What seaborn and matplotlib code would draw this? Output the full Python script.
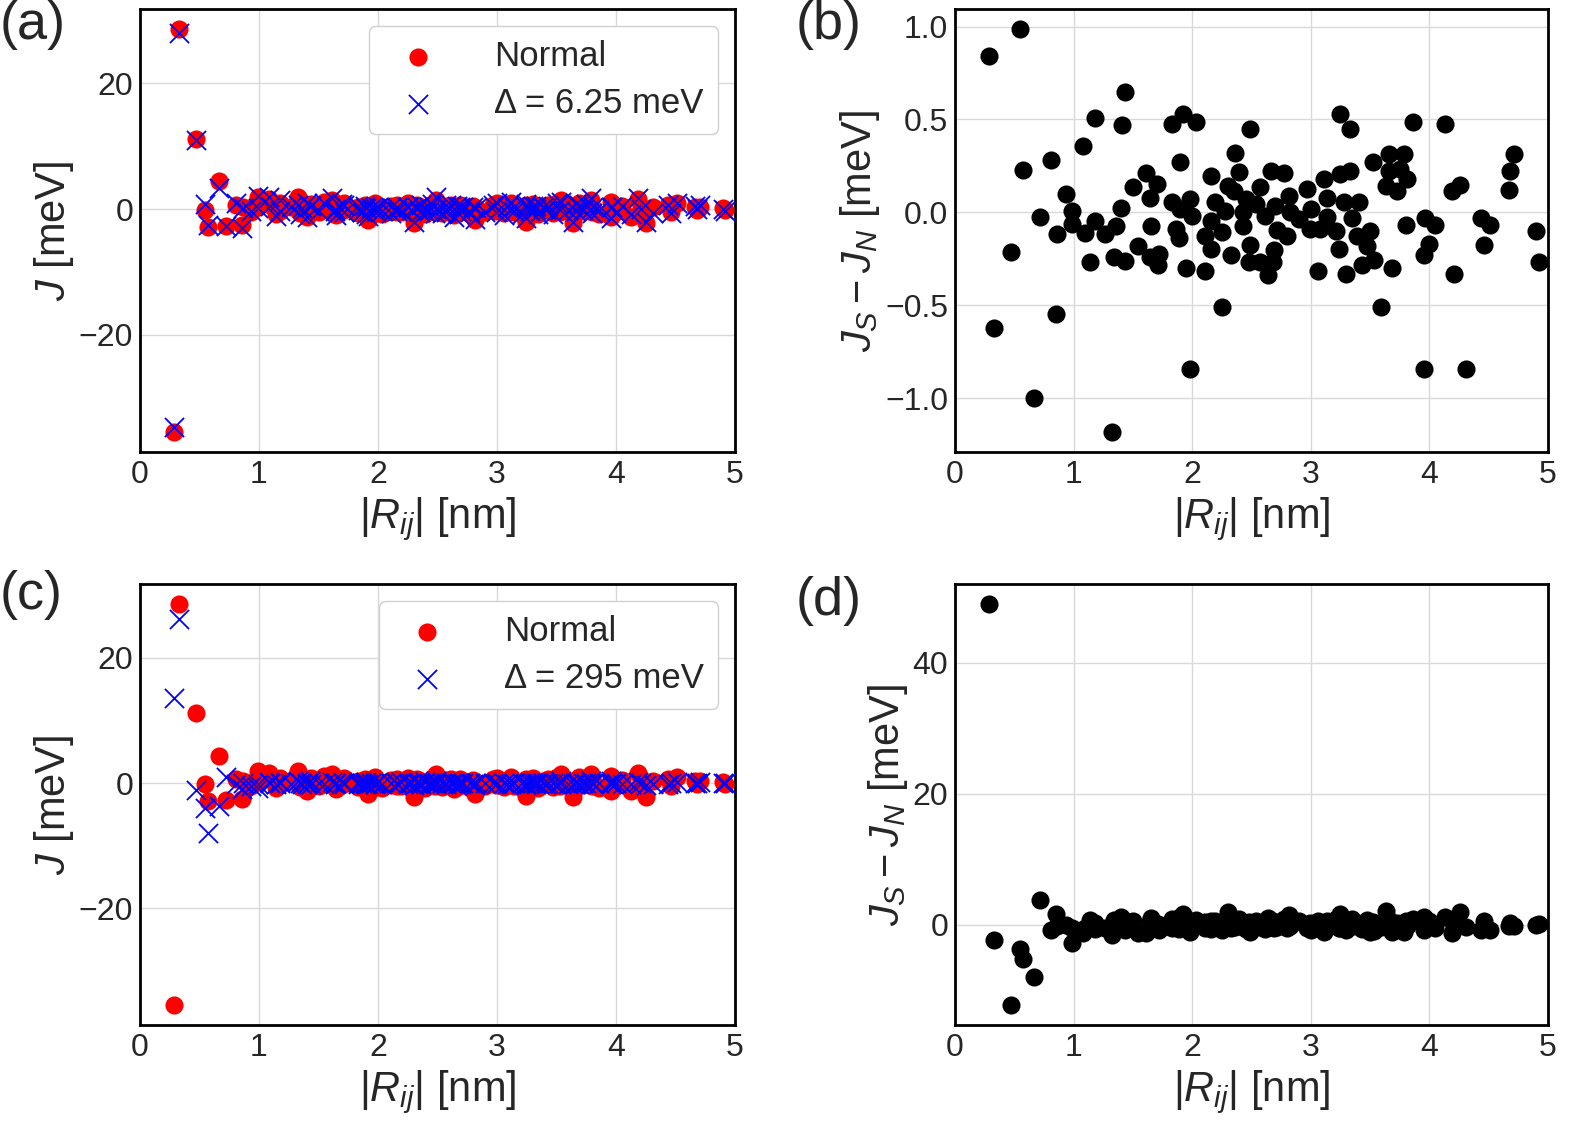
import matplotlib

matplotlib.use("Agg")
import matplotlib.pyplot as plt
import numpy as np
import pandas as pd
import seaborn as sns

# Pair distances |R_ij| [nm].
r_ij = [
    0.286, 0.330, 0.468, 0.547, 0.574, 0.663, 0.720, 0.810, 0.855, 0.862,
    0.934, 0.990, 0.990, 1.083, 1.096, 1.142, 1.178, 1.178, 1.268, 1.324,
    1.344, 1.360, 1.403, 1.406, 1.430, 1.436, 1.505, 1.545, 1.614, 1.640,
    1.640, 1.650, 1.700, 1.714, 1.717, 1.830, 1.830, 1.866, 1.890, 1.895,
    1.900, 1.920, 1.945, 1.978, 1.980, 2.000, 2.030, 2.107, 2.110, 2.156,
    2.160, 2.160, 2.190, 2.255, 2.255, 2.280, 2.305, 2.330, 2.355, 2.358,
    2.397, 2.427, 2.427, 2.454, 2.483, 2.487, 2.490, 2.536, 2.570, 2.570,
    2.615, 2.635, 2.668, 2.680, 2.688, 2.700, 2.718, 2.777, 2.800, 2.817,
    2.824, 2.900, 2.966, 2.990, 3.000, 3.060, 3.080, 3.115, 3.140, 3.140,
    3.213, 3.240, 3.246, 3.246, 3.280, 3.300, 3.330, 3.330, 3.346, 3.390,
    3.410, 3.430, 3.470, 3.500, 3.527, 3.537, 3.593, 3.636, 3.660, 3.660,
    3.686, 3.725, 3.750, 3.790, 3.800, 3.810, 3.858, 3.957, 3.957, 3.966,
    3.996, 4.050, 4.128, 4.188, 4.210, 4.254, 4.310, 4.436, 4.462, 4.510,
    4.667, 4.677, 4.710, 4.898, 4.920,
]

# Normal state exchange J_N [meV].
j_normal = [
    -35.4, 28.6, 11.2, -0.2, -2.8, 4.4, -2.7, 0.7, -2.5, 0.3,
    -0.4, 2.0, 0.3, 1.6, 0.6, -0.8, 0.9, -0.3, 0.4, 1.9,
    -0.6, 0.2, -1.3, 0.5, -0.2, 0.8, -0.5, 1.2, 1.5, -0.4,
    0.3, -0.9, 0.6, -0.2, 0.9, -0.6, 0.4, -0.3, 0.7, -1.0,
    0.2, -1.7, 0.5, 1.0, -0.6, 0.3, -0.8, 0.5, -0.3, 0.6,
    -0.5, 0.2, -0.4, 0.4, 0.9, -0.2, -2.2, 0.6, -0.5, 0.3,
    -0.7, 0.4, -0.3, 0.8, -0.4, 0.2, 1.5, -0.6, 0.5, -0.2,
    0.7, -0.9, 0.3, -0.5, 0.6, -0.3, 0.4, -0.7, 0.5, -1.7,
    0.2, -0.5, 0.6, -0.3, 0.9, -0.6, 0.4, 1.0, -0.4, 0.3,
    -0.7, 0.5, -2.0, 0.6, -0.3, 0.8, -0.5, 0.3, -0.8, 0.4,
    -0.2, 0.7, -0.6, 1.0, -0.4, 1.4, 0.3, -2.2, 0.5, -0.6,
    1.0, -0.3, 0.6, 1.4, -0.5, 0.2, -0.7, -1.2, 1.2, 0.3,
    -0.4, 0.5, -1.2, 1.6, 0.4, -2.2, 0.3, 0.7, -0.5, 1.0,
    0.3, -0.2, 0.4, 0.15, -0.1,
]

# J_S - J_N for Delta = 6.25 meV [meV].
dj_625 = [
    0.84, -0.625, -0.214, 0.986, 0.227, -1.0, -0.023, 0.284, -0.548, -0.116,
    0.10, 0.005, -0.063, 0.357, -0.113, -0.268, 0.505, -0.048, -0.118, -1.182,
    -0.241, -0.075, 0.023, 0.468, 0.646, -0.26, 0.138, -0.18, 0.214, 0.077,
    -0.241, -0.075, 0.155, -0.286, -0.223, 0.477, 0.054, -0.089, -0.136, 0.271,
    0.018, 0.53, -0.30, -0.843, 0.071, -0.018, 0.486, -0.125, -0.318, -0.196,
    0.196, -0.045, 0.057, -0.107, -0.509, 0.009, 0.143, -0.232, 0.116, 0.318,
    0.218, 0.0, -0.075, 0.071, -0.268, -0.175, 0.45, 0.045, 0.134, -0.268,
    -0.021, -0.336, 0.223, -0.268, -0.205, 0.036, -0.095, 0.214, -0.125, 0.089,
    0.0, -0.036, 0.125, -0.089, 0.018, -0.318, -0.089, 0.179, 0.075, -0.027,
    -0.098, -0.196, 0.527, 0.205, 0.054, -0.332, 0.45, 0.223, -0.032, -0.129,
    0.054, -0.286, -0.179, -0.098, 0.271, -0.259, -0.509, 0.143, 0.313, 0.223,
    -0.30, 0.116, 0.232, 0.313, -0.066, 0.179, 0.486, -0.232, -0.843, -0.030,
    -0.17, -0.066, 0.477, 0.116, -0.332, 0.146, -0.843, -0.030, -0.175, -0.066,
    0.12, 0.223, 0.313, -0.102, -0.268,
]

# J_S for Delta = 295 meV [meV].
j_295 = [
    13.6, 26.2, -1.1, -3.9, -8.0, -3.6, 1.0, -0.15, -0.85, 0.0,
    -0.5, -0.76, -0.2, 0.25, 0.1, -0.1, 0.2, 0.0, -0.1, 0.3,
    0.1, -0.1, -0.2, 0.1, 0.3, -0.1, 0.1, -0.15, 0.2, 0.0,
    -0.2, 0.1, 0.2, -0.1, 0.0, 0.2, -0.1, 0.1, 0.0, 0.2,
    -0.2, -0.05, 0.1, -0.1, 0.0, 0.2, -0.1, 0.0, 0.1, -0.1,
    0.1, 0.0, 0.2, -0.1, 0.0, 0.1, -0.3, 0.0, 0.1, -0.1,
    0.2, 0.0, -0.1, 0.1, 0.0, -0.2, 0.4, 0.0, 0.1, -0.1,
    0.0, 0.1, -0.1, 0.0, 0.1, -0.1, 0.0, 0.1, -0.1, -0.3,
    0.0, 0.1, 0.0, -0.1, 0.1, 0.0, -0.1, -0.1, 0.1, 0.0,
    0.1, -0.1, -0.35, 0.0, 0.1, 0.0, 0.1, -0.1, 0.0, 0.1,
    -0.1, 0.0, 0.1, -0.1, 0.0, 0.4, -0.1, -0.2, 0.0, 0.1,
    -0.1, 0.0, 0.1, 0.3, 0.0, -0.1, 0.1, -0.1, 0.35, 0.0,
    0.1, -0.1, -0.1, 0.25, 0.0, -0.3, -0.1, -0.1, 0.0, 0.15,
    0.1, 0.0, 0.2, 0.1, 0.0,
]

df = pd.DataFrame({"r": r_ij, "jn": j_normal, "d625": dj_625, "j295": j_295})
df["j625"] = df["jn"] + df["d625"]
df["d295"] = df["j295"] - df["jn"]

sns.set_theme(style="whitegrid")
plt.rcParams["font.family"] = ["Liberation Sans", "DejaVu Sans"]
plt.rcParams["mathtext.fontset"] = "custom"
plt.rcParams["mathtext.rm"] = "Liberation Sans"
plt.rcParams["mathtext.it"] = "Liberation Sans:italic"
plt.rcParams["mathtext.bf"] = "Liberation Sans:bold"

W, H = 1578, 1127
fig = plt.figure(figsize=(W / 100, H / 100), dpi=100)


def add_ax(left, top, right, bottom):
    return fig.add_axes(
        [left / W, 1 - bottom / H, (right - left) / W, (bottom - top) / H]
    )


ax_a = add_ax(140, 9, 735, 452)
ax_b = add_ax(955, 9, 1548, 452)
ax_c = add_ax(140, 584, 735, 1025)
ax_d = add_ax(955, 584, 1548, 1025)

tick_fs = 23
label_fs = 30


def style(ax, ylabel):
    ax.set_xlim(0, 5)
    ax.set_xticks([0, 1, 2, 3, 4, 5])
    ax.tick_params(labelsize=tick_fs, length=0, colors="#262626")
    ax.tick_params(axis="x", pad=6)
    ax.tick_params(axis="y", pad=5)
    for sp in ax.spines.values():
        sp.set_color("black")
        sp.set_linewidth(2.0)
    ax.grid(True, color="#d9d9d9", linewidth=1.0)
    ax.set_xlabel(r"$|R_{ij}|$ [nm]", fontsize=label_fs, color="#262626",
                  labelpad=4)
    ax.set_ylabel(ylabel, fontsize=label_fs, color="#262626", labelpad=2)


for ax, col, lab in [(ax_a, "j625", "Δ = 6.25 meV"),
                     (ax_c, "j295", "Δ = 295 meV")]:
    sns.scatterplot(data=df, x="r", y="jn", color="red", s=170,
                    linewidth=0, marker="o", label="Normal", ax=ax, zorder=3)
    sns.scatterplot(data=df, x="r", y=col, color="blue", s=190,
                    linewidth=1.3, marker="x", label=lab, ax=ax, zorder=4)
    style(ax, r"$J$ [meV]")
    ax.set_yticks([-20, 0, 20])
    ax.legend(loc="upper right", fontsize=25, handletextpad=1.2,
              borderpad=0.4, labelspacing=0.4, markerscale=1.0,
              frameon=True, framealpha=1.0, edgecolor="#d0d0d0",
              borderaxespad=0.5)

for ax, col in [(ax_b, "d625"), (ax_d, "d295")]:
    sns.scatterplot(data=df, x="r", y=col, color="black", s=170,
                    linewidth=0, marker="o", ax=ax, zorder=3)
    style(ax, r"$J_S - J_N$ [meV]")

ax_b.set_yticks([-1.0, -0.5, 0.0, 0.5, 1.0])
ax_d.set_yticks([0, 20, 40])

for ax in [ax_a, ax_b, ax_c, ax_d]:
    ax.margins(y=0.05)

panel_fs = 39
fig.text(0.0, 1.0, "(a)", fontsize=panel_fs, ha="left", va="top")
fig.text(796 / W, 1.0, "(b)", fontsize=panel_fs, ha="left", va="top")
fig.text(0.0, 1 - 570 / H, "(c)", fontsize=panel_fs, ha="left", va="top")
fig.text(796 / W, 1 - 576 / H, "(d)", fontsize=panel_fs, ha="left", va="top")

fig.savefig("out.png", dpi=100)
plt.close()
